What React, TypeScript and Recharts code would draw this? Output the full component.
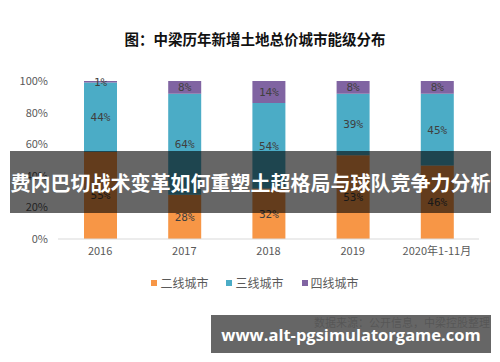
import React from "react"
import { Bar, BarChart, LabelList, XAxis, YAxis } from "recharts"

const years = ["2016", "2017", "2018", "2019", "2020年1-11月"]
const secondTier = [55, 28, 32, 53, 46]
const thirdTier = [44, 64, 54, 39, 45]
const fourthTier = [1, 8, 14, 8, 8]
const yTicks = [0, 0.2, 0.4, 0.6, 0.8, 1]

const series = [
  { key: "second", name: "二线城市", color: "#F79646" },
  { key: "third", name: "三线城市", color: "#4BACC6" },
  { key: "fourth", name: "四线城市", color: "#8064A2" },
]

const data = years.map((year, i) => ({
  year,
  second: secondTier[i],
  third: thirdTier[i],
  fourth: fourthTier[i],
}))

const cjk = '"Noto Sans CJK SC", "Noto Sans", sans-serif'

function LegendBox() {
  return (
    <div style={{ position: "absolute", left: 0, width: 510, top: 274, display: "flex", justifyContent: "center", gap: 18, fontFamily: cjk, fontSize: 12, color: "#595959" }}>
      {series.map(s => (
        <div key={s.key} style={{ display: "flex", alignItems: "center" }}>
          <span style={{ width: 6, height: 6, background: s.color, marginRight: 3, display: "inline-block" }} />
          {s.name}
        </div>
      ))}
    </div>
  )
}

export default function App() {
  return (
    <div style={{ position: "fixed", left: 0, top: 0, width: 500, height: 362, background: "#fff", overflow: "hidden" }}>
      <div style={{ position: "absolute", left: 0, width: 510, top: 28, textAlign: "center", fontFamily: cjk, fontWeight: 700, fontSize: 14.5, color: "#111" }}>
        图：中梁历年新增土地总价城市能级分布
      </div>
      <BarChart
        width={500}
        height={362}
        data={data}
        stackOffset="expand"
        margin={{ top: 81, right: 21, bottom: 93, left: 0 }}
      >
        <XAxis
          dataKey="year"
          height={30}
          axisLine={{ stroke: "#d9d9d9" }}
          tickLine={false}
          tick={{ fill: "#595959", fontSize: 11, fontFamily: cjk }}
        />
        <YAxis
          width={58}
          ticks={yTicks}
          domain={[0, 1]}
          tickFormatter={(v: number) => `${Math.round(v * 100)}%`}
          axisLine={false}
          tickLine={false}
          tickMargin={4}
          tick={{ fill: "#595959", fontSize: 11, fontFamily: cjk }}
        />
        {series.map(s => (
          <Bar key={s.key} dataKey={s.key} name={s.name} stackId="a" fill={s.color} barSize={33} isAnimationActive={false}>
            <LabelList
              dataKey={s.key}
              position="center"
              formatter={(v: any) => `${v}%`}
              style={{ fill: "#404040", fontSize: 11, fontFamily: '"DejaVu Sans Mono", monospace' }}
            />
          </Bar>
        ))}
      </BarChart>
      <LegendBox />
      <div
        style={{
          position: "absolute", left: 10, top: 151, width: 481, height: 62,
          background: "rgba(0,0,0,0.6)", color: "#fff", fontFamily: cjk, fontWeight: 700,
          fontSize: 20, display: "flex", alignItems: "center", justifyContent: "center", whiteSpace: "nowrap",
        }}
      >
        费内巴切战术变革如何重塑土超格局与球队竞争力分析
      </div>
      <div style={{ position: "absolute", right: 10, top: 314, fontFamily: cjk, fontSize: 11, color: "#222" }}>
        数据来源：公开信息，中梁控股整理
      </div>
      <div
        style={{
          position: "absolute", left: 211, top: 315, width: 280, height: 38,
          background: "rgba(90,90,90,0.93)", color: "#fff", fontFamily: '"Open Sans", sans-serif', fontWeight: 700,
          fontSize: 16.5, display: "flex", alignItems: "center", justifyContent: "center", whiteSpace: "nowrap",
        }}
      >
        www.alt-pgsimulatorgame.com
      </div>
    </div>
  )
}
